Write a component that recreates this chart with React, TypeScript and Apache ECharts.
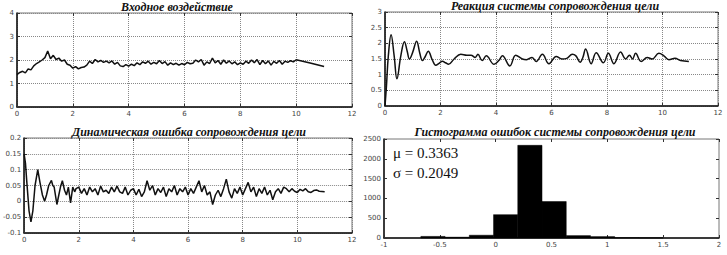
import React, { useEffect, useRef } from 'react';
import * as echarts from 'echarts';

// ---------- Data ----------
const titles = [
  'Входное воздействие',
  'Реакция системы сопровождения цели',
  'Динамическая ошибка сопровождения цели',
  'Гистограмма ошибок системы сопровождения цели',
];

// Input signal
const inputT = [
  0, 0.1, 0.2, 0.3, 0.4, 0.5, 0.6, 0.7, 0.8, 0.9,
  1, 1.1, 1.2, 1.3, 1.4, 1.5, 1.6, 1.7, 1.8, 1.9,
  2, 2.1, 2.2, 2.3, 2.4, 2.5, 2.6, 2.7, 2.8, 2.9,
  3, 3.1, 3.2, 3.3, 3.4, 3.5, 3.6, 3.7, 3.8, 3.9,
  4, 4.1, 4.2, 4.3, 4.4, 4.5, 4.6, 4.7, 4.8, 4.9,
  5, 5.1, 5.2, 5.3, 5.4, 5.5, 5.6, 5.7, 5.8, 5.9,
  6, 6.1, 6.2, 6.3, 6.4, 6.5, 6.6, 6.7, 6.8, 6.9,
  7, 7.1, 7.2, 7.3, 7.4, 7.5, 7.6, 7.7, 7.8, 7.9,
  8, 8.1, 8.2, 8.3, 8.4, 8.5, 8.6, 8.7, 8.8, 8.9,
  9, 9.1, 9.2, 9.3, 9.4, 9.5, 9.6, 9.7, 9.8, 9.9,
  10, 10.5, 11,
];
const inputV = [
  1.38, 1.47, 1.52, 1.45, 1.62, 1.58, 1.75, 1.85, 1.92, 2.0,
  2.1, 2.38, 2.05, 2.2, 2.02, 2.08, 1.95, 2.0, 1.82, 1.78,
  1.65, 1.72, 1.62, 1.68, 1.7, 1.78, 1.95, 1.85, 2.02, 1.92,
  1.98, 1.9, 1.95, 1.88, 1.96, 1.82, 1.9, 1.75, 1.72, 1.8,
  1.74, 1.82, 1.76, 1.88, 1.8, 1.92, 1.86, 1.95, 1.82, 1.9,
  1.84, 1.98, 1.85, 1.93, 1.78, 1.88, 1.8, 1.86, 1.78, 1.85,
  1.8, 1.9, 1.84, 1.86, 2.0, 1.92, 2.02, 1.78, 1.92, 1.85,
  2.08, 1.88, 1.98, 1.82, 2.0, 1.86, 1.96, 1.84, 1.92, 1.8,
  1.88, 1.82, 1.95, 1.86, 2.0, 1.88, 2.02, 1.8, 1.98, 1.84,
  1.96, 1.78, 1.94, 1.86, 1.98, 1.82, 1.95, 1.9, 1.97, 1.92,
  2.01, 1.87, 1.72,
];

// System response
const respT = [
  0, 0.05, 0.12, 0.22, 0.33, 0.43, 0.57, 0.7, 0.8, 0.88, 1.0, 1.14, 1.25, 1.35,
  1.45, 1.56, 1.7, 1.83, 1.95, 2.07, 2.18, 2.29, 2.49, 2.73, 2.95, 3.1, 3.25,
  3.35, 3.5, 3.65, 3.93, 4.1, 4.23, 4.5, 4.71, 4.95, 5.1, 5.3, 5.45, 5.67, 5.91,
  6.17, 6.38, 6.55, 6.75, 6.88, 7.03, 7.13, 7.23, 7.43, 7.61, 7.87, 8.05, 8.25,
  8.49, 8.67, 8.81, 8.92, 9.03, 9.23, 9.45, 9.63, 9.87, 10.05, 10.23, 10.45,
  10.65, 10.95,
];
const respV = [
  0, 0.6, 1.6, 2.27, 1.6, 0.87, 1.6, 2.05, 1.75, 1.5, 1.72, 2.07, 1.7, 1.45,
  1.58, 1.75, 1.48, 1.3, 1.36, 1.43, 1.38, 1.33, 1.5, 1.65, 1.62, 1.62, 1.55,
  1.65, 1.45, 1.6, 1.33, 1.45, 1.6, 1.28, 1.62, 1.5, 1.48, 1.55, 1.42, 1.65, 1.35,
  1.58, 1.5, 1.52, 1.65, 1.6, 1.4, 1.55, 1.82, 1.35, 1.7, 1.38, 1.68, 1.35,
  1.72, 1.5, 1.62, 1.5, 1.68, 1.42, 1.55, 1.5, 1.68, 1.6, 1.48, 1.52,
  1.45, 1.42,
];

// Dynamic tracking error
const errT = [
  0, 0.05, 0.1, 0.18, 0.25, 0.32, 0.4, 0.5, 0.58, 0.67, 0.75, 0.82, 0.9, 1.0,
  1.05, 1.1, 1.2, 1.27, 1.33, 1.4, 1.48, 1.55, 1.62, 1.7, 1.78, 1.85,
  1.9, 2, 2.1, 2.2, 2.3, 2.4, 2.5, 2.6, 2.7, 2.8, 2.9,
  3, 3.1, 3.2, 3.3, 3.4, 3.5, 3.6, 3.7, 3.8, 3.9,
  4, 4.1, 4.2, 4.3, 4.4, 4.5, 4.6, 4.7, 4.8, 4.9,
  5, 5.1, 5.2, 5.3, 5.4, 5.5, 5.6, 5.7, 5.8, 5.9,
  6, 6.1, 6.2, 6.3, 6.4, 6.5, 6.6, 6.7, 6.8, 6.9,
  7, 7.1, 7.2, 7.3, 7.4, 7.5, 7.6, 7.7, 7.8, 7.9,
  8, 8.1, 8.2, 8.3, 8.4, 8.5, 8.6, 8.7, 8.8, 8.9,
  9, 9.1, 9.2, 9.3, 9.4, 9.5, 9.6, 9.7, 9.8, 9.9,
  10, 10.1, 10.2, 10.3, 10.4, 10.5, 10.6, 10.7, 10.8, 10.9, 11,
];
const errV = [
  0.15, 0.12, 0.06, -0.03, -0.065, -0.03, 0.05, 0.1, 0.06, 0.02, 0.0, 0.02, 0.05, 0.066,
  0.05, 0.045, -0.01, 0.02, 0.045, 0.065, 0.035, 0.02, 0.045, -0.005, 0.045, 0.03,
  0.04, 0.045, 0.025, 0.04, 0.02, 0.045, 0.03, 0.04, 0.02, 0.048, 0.03,
  0.035, 0.025, 0.045, 0.03, 0.048, 0.03, 0.025, 0.045, 0.02, 0.035,
  0.04, 0.02, 0.038, 0.015, 0.03, 0.065, 0.035, 0.05, 0.02, 0.04,
  0.028, 0.045, 0.015, 0.04, 0.03, 0.05, 0.02, 0.04, 0.03, 0.045,
  0.02, 0.04, 0.025, 0.045, 0.065, 0.03, 0.05, 0.02, 0.03, -0.01,
  0.02, 0.035, 0.015, 0.04, 0.07, 0.03, 0.01, 0.04, 0.025, 0.045,
  0.02, 0.04, 0.06, 0.03, 0.045, 0.015, 0.04, 0.025, 0.045, 0.02,
  0.035, 0.005, 0.03, 0.04, 0.025, 0.045, 0.04, 0.03, 0.04, 0.032,
  0.028, 0.038, 0.033, 0.04, 0.03, 0.028, 0.034, 0.036, 0.032, 0.031, 0.03,
];

// Histogram of errors
const histEdges = [-0.67, -0.453, -0.236, -0.019, 0.198, 0.415, 0.632, 0.849, 1.066, 1.283, 1.5];
const histCounts = [40, 20, 70, 590, 2340, 920, 60, 35, 8, 5];
const statTexts = ['μ = 0.3363', 'σ = 0.2049'];

// Axis ranges
const axes = [
  { xMin: 0, xMax: 12, xInt: 2, yMin: 0, yMax: 4, yInt: 1, grid: true },
  { xMin: 0, xMax: 12, xInt: 2, yMin: 0, yMax: 3, yInt: 0.5, grid: true },
  { xMin: 0, xMax: 12, xInt: 2, yMin: -0.1, yMax: 0.2, yInt: 0.05, grid: true },
  { xMin: -1, xMax: 2, xInt: 0.5, yMin: 0, yMax: 2500, yInt: 500, grid: false },
];

const zip = (a: number[], b: number[]) => a.map((v, i) => [v, b[i]]);

const App: React.FC = () => {
  const ref = useRef<HTMLDivElement>(null);

  useEffect(() => {
    if (!ref.current) return;
    const chart = echarts.init(ref.current, undefined, { renderer: 'svg' });

    const grids = [
      { left: 17, top: 13, width: 335, height: 94 },
      { left: 385, top: 12, width: 333, height: 94 },
      { left: 18, top: 138, width: 334, height: 95 },
      { left: 384, top: 139, width: 335, height: 99 },
    ].map((g) => ({ ...g, show: true, borderColor: '#777', borderWidth: 1, containLabel: false }));

    const labelStyle = {
      fontSize: 7,
      color: '#444',
      fontFamily: 'DejaVu Sans',
      formatter: (v: number) => String(v),
    };
    const dotted = { show: true, lineStyle: { type: 'dotted' as const, color: '#888', width: 1 } };
    const tick = { show: true, inside: true, length: 3, lineStyle: { color: '#333' } };

    const xAxis: any[] = [];
    const yAxis: any[] = [];
    axes.forEach((a, i) => {
      xAxis.push({
        type: 'value', gridIndex: i, min: a.xMin, max: a.xMax, interval: a.xInt,
        axisLine: { show: true, onZero: false, lineStyle: { color: '#111', width: 1.5 } },
        axisTick: tick,
        axisLabel: { ...labelStyle, margin: 3 },
        splitLine: a.grid ? dotted : { show: false },
      });
      yAxis.push({
        type: 'value', gridIndex: i, min: a.yMin, max: a.yMax, interval: a.yInt,
        axisLine: { show: true, onZero: false, lineStyle: { color: '#111', width: 1.5 } },
        axisTick: tick,
        axisLabel: { ...labelStyle, margin: 3 },
        splitLine: a.grid ? dotted : { show: false },
      });
    });
    axes.forEach((a, i) => {
      xAxis.push({
        type: 'value', gridIndex: i, position: 'top', min: a.xMin, max: a.xMax, interval: a.xInt,
        axisLine: { show: false, onZero: false }, axisLabel: { show: false }, splitLine: { show: false },
        axisTick: tick,
      });
      yAxis.push({
        type: 'value', gridIndex: i, position: 'right', min: a.yMin, max: a.yMax, interval: a.yInt,
        axisLine: { show: false, onZero: false }, axisLabel: { show: false }, splitLine: { show: false },
        axisTick: tick,
      });
    });

    const lineCommon = {
      type: 'line' as const,
      showSymbol: false,
      lineStyle: { color: '#111', width: 1.5 },
      itemStyle: { color: '#111' },
    };

    const histData = histCounts.map((c, i) => [histEdges[i], histEdges[i + 1], c]);

    const titlePos = [
      [177, 7],
      [555, 6],
      [189, 132],
      [555, 132],
    ];

    const graphic: any[] = titles.map((t, i) => ({
      type: 'text',
      x: titlePos[i][0],
      y: titlePos[i][1],
      style: {
        text: t,
        font: 'italic bold 12px "Liberation Serif"',
        fill: '#111',
        textAlign: 'center',
        textVerticalAlign: 'middle',
        align: 'center',
        verticalAlign: 'middle',
      },
    }));
    statTexts.forEach((t, i) => {
      graphic.push({
        type: 'text',
        x: 393,
        y: 153 + i * 20,
        style: {
          text: t,
          font: '15px "Liberation Serif"',
          fill: '#111',
          textAlign: 'left',
          textVerticalAlign: 'middle',
          align: 'left',
          verticalAlign: 'middle',
        },
      });
    });

    chart.setOption({
      animation: false,
      backgroundColor: '#fff',
      grid: grids,
      xAxis,
      yAxis,
      graphic,
      series: [
        { ...lineCommon, xAxisIndex: 0, yAxisIndex: 0, data: zip(inputT, inputV) },
        { ...lineCommon, xAxisIndex: 1, yAxisIndex: 1, data: zip(respT, respV), smooth: 0.4 },
        { ...lineCommon, xAxisIndex: 2, yAxisIndex: 2, data: zip(errT, errV) },
        {
          type: 'custom',
          xAxisIndex: 3,
          yAxisIndex: 3,
          data: histData,
          encode: { x: [0, 1], y: 2 },
          renderItem: (params: any, api: any) => {
            const p0 = api.coord([api.value(0), api.value(2)]);
            const p1 = api.coord([api.value(1), 0]);
            return {
              type: 'rect',
              shape: { x: p0[0], y: p0[1], width: p1[0] - p0[0], height: p1[1] - p0[1] },
              style: { fill: '#000', stroke: '#000', lineWidth: 0.5 },
            };
          },
        },
      ],
    });

    return () => chart.dispose();
  }, []);

  return (
    <div
      ref={ref}
      style={{ position: 'absolute', left: 0, top: 0, width: 727, height: 255, background: '#fff' }}
    />
  );
};

export default App;
